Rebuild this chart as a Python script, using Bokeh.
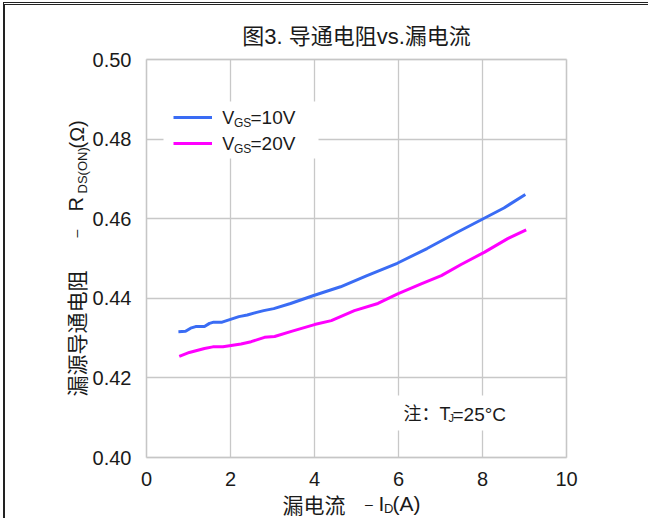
from math import pi
from bokeh.plotting import figure
from bokeh.models import (Range1d, FixedTicker, PrintfTickFormatter, Label,
                          Legend, LegendItem, BoxAnnotation)
from bokeh.core.properties import value
from bokeh.embed import file_html
from bokeh.resources import INLINE

# ---------------- data ----------------
title_text = "图3. 导通电阻vs.漏电流"
x_ticks = [0, 2, 4, 6, 8, 10]
y_ticks = [0.40, 0.42, 0.44, 0.46, 0.48, 0.50]

id_vgs10 = [0.76, 0.93, 1.05, 1.17, 1.38, 1.50, 1.60, 1.80, 2.00, 2.20, 2.40,
            2.60, 2.79, 3.03, 3.43, 3.98, 4.62, 5.25, 5.97, 6.68, 7.40, 7.95,
            8.51, 9.02]
r_vgs10 = [0.4316, 0.4317, 0.4325, 0.4329, 0.4329, 0.4337, 0.4340, 0.4340,
           0.4347, 0.4354, 0.4358, 0.4364, 0.4369, 0.4374, 0.4387, 0.4407,
           0.4429, 0.4457, 0.4488, 0.4525, 0.4566, 0.4596, 0.4627, 0.4661]

id_vgs20 = [0.78, 1.02, 1.38, 1.58, 1.82, 2.25, 2.49, 2.81, 3.05, 3.45, 4.00,
            4.40, 4.95, 5.51, 5.98, 6.54, 7.02, 7.49, 8.05, 8.60, 9.04]
r_vgs20 = [0.4254, 0.4264, 0.4274, 0.4278, 0.4278, 0.4285, 0.4291, 0.4302,
           0.4304, 0.4317, 0.4334, 0.4344, 0.4369, 0.4387, 0.4411, 0.4436,
           0.4457, 0.4485, 0.4516, 0.4550, 0.4572]

# ---------------- layout (page pixels) ----------------
OX, OY = 5, 5              # canvas origin on the page (after the frame lines)
W, H = 645, 516
P_L, P_R, P_T, P_B = 146, 566, 59, 457   # plot area on the page


def fx(page_x):
    return page_x - OX


def fy(page_y):
    return OY + H - page_y


x0, x1 = x_ticks[0], x_ticks[-1]
y0, y1 = y_ticks[0], y_ticks[-1]
sx = (P_R - P_L) / (x1 - x0)
sy = (P_B - P_T) / (y1 - y0)
xr = Range1d(x0 - fx(P_L) / sx, x1 + (W - fx(P_R)) / sy * sy / sx)
yr = Range1d(y0 - fy(P_B) / sy, y1 + (H - fy(P_T)) / sy)

p = figure(width=W, height=H, output_backend="svg", toolbar_location=None,
           x_range=xr, y_range=yr,
           min_border_left=0, min_border_right=0, min_border_top=0, min_border_bottom=0,
           background_fill_color="white", border_fill_color="white",
           styles={"margin-left": "3px", "margin-top": "2px",
                   "border-top": "3px double #222", "border-left": "2px solid #222"})
p.outline_line_color = None

LAT = "'Liberation Sans', Arial, sans-serif"
CJK = "'Noto Sans CJK SC', sans-serif"
MIX = "'Liberation Sans', 'Noto Sans CJK SC', sans-serif"
TXT = "#1a1a1a"

xa = p.xaxis[0]
ya = p.yaxis[0]
xa.fixed_location = y0
ya.fixed_location = x0
xa.bounds = (x0, x1)
ya.bounds = (y0, y1)
xa.ticker = FixedTicker(ticks=x_ticks)
ya.ticker = FixedTicker(ticks=y_ticks)
ya.formatter = PrintfTickFormatter(format="%.2f")
xa.formatter = PrintfTickFormatter(format="%d")
for ax in (xa, ya):
    ax.axis_line_color = None
    ax.major_tick_line_color = None
    ax.minor_tick_line_color = None
    ax.major_label_text_font = LAT
    ax.major_label_text_font_size = "20px"
    ax.major_label_text_color = TXT
ya.major_label_standoff = 9
xa.major_label_standoff = 8

xg = p.xgrid[0]
yg = p.ygrid[0]
xg.ticker = FixedTicker(ticks=x_ticks)
yg.ticker = FixedTicker(ticks=y_ticks)
GRID = "#c8c8c8"
if "cross_bounds" in xg.properties():
    xg.cross_bounds = (y0, y1)
    yg.cross_bounds = (x0, x1)
    for g in (xg, yg):
        g.grid_line_color = GRID
        g.grid_line_width = 1.3
else:
    xg.visible = False
    yg.visible = False
    p.segment(x0=x_ticks, y0=[y0] * len(x_ticks), x1=x_ticks, y1=[y1] * len(x_ticks),
              line_color=GRID, line_width=1.3, level="underlay")
    p.segment(x0=[x0] * len(y_ticks), y0=y_ticks, x1=[x1] * len(y_ticks), y1=y_ticks,
              line_color=GRID, line_width=1.3, level="underlay")

# plot-area outline
p.add_layout(BoxAnnotation(left=x0, right=x1, bottom=y0, top=y1,
                           fill_color=None, fill_alpha=0,
                           line_color="#c4c4c4", line_width=2))

r1 = p.line(id_vgs10, r_vgs10, line_color="#3a6cf4", line_width=3)
r2 = p.line(id_vgs20, r_vgs20, line_color="#ff00ff", line_width=3)


def sbox(l, r, t, b):
    p.add_layout(BoxAnnotation(left=fx(l), right=fx(r), bottom=fy(b), top=fy(t),
                               left_units="screen", right_units="screen",
                               top_units="screen", bottom_units="screen",
                               fill_color="white", fill_alpha=1.0, line_color=None))


# white backgrounds of legend and note (they hide the grid)
sbox(163, 318, 101, 158)
sbox(390, 520, 395, 430)

legend = Legend(items=[LegendItem(label=value(" "), renderers=[r1]),
                       LegendItem(label=value("  "), renderers=[r2])],
                location=(fx(173), fy(149)), padding=0, spacing=14, margin=0,
                glyph_width=39, glyph_height=12, label_width=1, label_height=12,
                label_standoff=0, label_text_font_size="6px",
                background_fill_alpha=0.0, border_line_color=None)
p.add_layout(legend)


def lab(text, x, y, size, font=LAT, angle=0.0, align="left", baseline="middle"):
    p.add_layout(Label(x=fx(x), y=fy(y), x_units="screen", y_units="screen", text=text,
                       text_font=font, text_font_size=f"{size}px", text_color=TXT,
                       angle=angle, text_align=align, text_baseline=baseline,
                       level="overlay"))


# title
lab(title_text, 356, 36, 22, MIX, align="center")

# legend texts
lab("V", 221.7, 117, 18)
lab("GS", 233.5, 122.5, 12)
lab("=10V", 250, 117, 19)
lab("V", 221.7, 143, 18)
lab("GS", 233.5, 148.5, 12)
lab("=20V", 250, 143, 19)

# note
lab("注：T", 403, 413.7, 18, MIX)
lab("J", 448, 417.7, 11)
lab("=25°C", 452, 413.7, 19)

# x axis label
lab("漏电流", 282, 503, 21, CJK)
lab("–", 368.5, 503, 14, align="center")
lab("I", 378, 503, 21)
lab("D", 383.5, 507.5, 13)
lab("(A)", 392, 503, 21)

# y axis label (rotated)
lab("漏源导通电阻", 75, 396, 21, CJK, angle=pi / 2)
lab("–", 75, 233, 14, angle=pi / 2, align="center")
lab("R", 75, 211, 20, angle=pi / 2)
lab("DS(ON)", 81.5, 193, 13, angle=pi / 2)
lab("(Ω)", 76.5, 148, 20, angle=pi / 2)

open("out.html", "w").write(file_html(p, INLINE))
